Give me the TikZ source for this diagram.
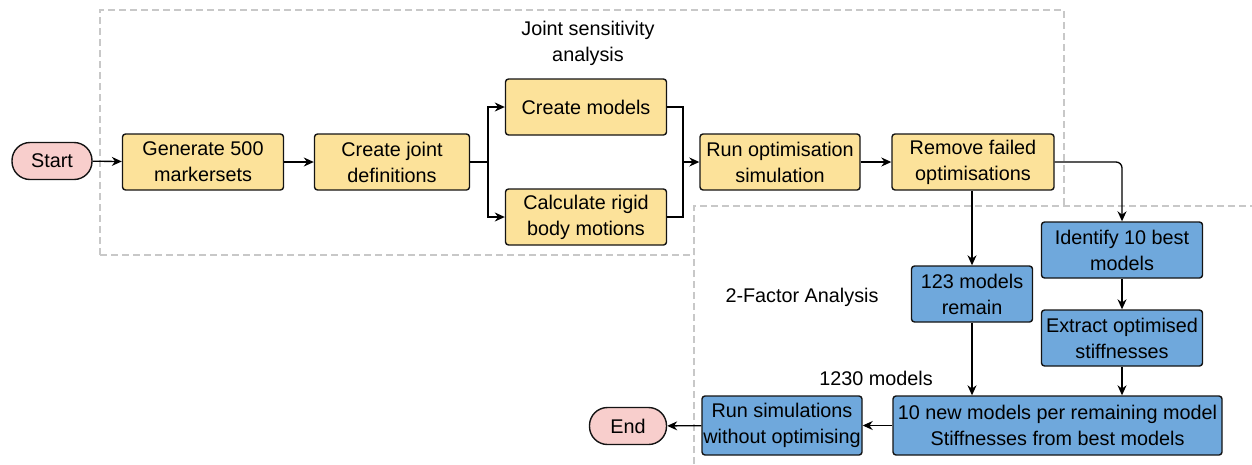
\documentclass[tikz,border=0pt]{standalone}
\usepackage{fontspec}
\setmainfont{Liberation Sans}
\usetikzlibrary{arrows.meta}
\definecolor{yfill}{RGB}{252,226,154}
\definecolor{bfill}{RGB}{111,168,220}
\definecolor{pfill}{RGB}{248,206,204}
\definecolor{dgray}{RGB}{200,200,200}
\definecolor{edge}{RGB}{20,20,20}
\tikzset{
  txt/.style={font=\fontsize{19.8}{26}\selectfont, align=center, text=black},
  ybox/.style={txt, draw=edge, line width=1.4pt, fill=yfill, rounded corners=3pt, minimum width=161pt, minimum height=56pt, inner sep=0pt},
  bbox/.style={txt, draw=edge, line width=1.4pt, fill=bfill, rounded corners=3pt, minimum width=161pt, minimum height=56pt, inner sep=0pt},
  term/.style={txt, draw=edge, line width=1.4pt, fill=pfill, rounded corners=18pt, minimum height=37pt, inner sep=0pt},
  arr/.style={draw=black, line width=1.3pt, -{Stealth[length=10pt,width=9pt]}},
  ln/.style={draw=black, line width=1.3pt},
  grp/.style={draw=dgray, line width=1.6pt, dash pattern=on 7pt off 4pt},
}
\begin{document}
\begin{tikzpicture}[x=1pt,y=-1pt]
\useasboundingbox (0,0) rectangle (1252,464);
% group outlines
\draw[grp] (100,255) -- (100,10) -- (1064,10) -- (1064,206);
\draw[grp] (100,255) -- (694,255);
\draw[grp] (694,464) -- (694,206) -- (1252,206);
% labels
\node[txt] (jsa) at (588,43) {Joint sensitivity\\analysis};
\node[txt] (tfa) at (802,297) {2-Factor Analysis};
\node[txt] (n1230) at (876,378) {1230 models};
% nodes
\node[term, minimum width=80pt] (start) at (52,161) {Start};
\node[ybox] (gen) at (203,162) {Generate 500\\markersets};
\node[ybox, minimum width=155pt] (cj) at (392,162) {Create joint\\definitions};
\node[ybox] (cm) at (586,107) {Create models};
\node[ybox] (cr) at (586,217) {Calculate rigid\\body motions};
\node[ybox, minimum width=160pt] (ro) at (780,162) {Run optimisation\\simulation};
\node[ybox, minimum width=162pt] (rf) at (973,162) {Remove failed\\optimisations};
\node[bbox] (ib) at (1122,250) {Identify 10 best\\models};
\node[bbox, minimum width=121pt] (r123) at (972,294) {123 models\\remain};
\node[bbox] (ex) at (1122,338) {Extract optimised\\stiffnesses};
\node[bbox, minimum width=329pt, minimum height=59pt] (nm) at (1057.5,425.5) {10 new models per remaining model\\Stiffnesses from best models};
\node[bbox, minimum width=160pt, minimum height=59pt] (rs) at (782,425.5) {Run simulations\\without optimising};
\node[term, minimum width=77pt] (end) at (628,426) {End};
% connectors
\draw[arr] (start) -- (gen);
\draw[arr] (gen) -- (cj);
\coordinate (fork) at (488,162);
\draw[ln] (cj.east) -- (fork);
\draw[arr] (fork) |- (cm.west);
\draw[arr] (fork) |- (cr.west);
\coordinate (merge) at (683,162);
\draw[ln] (cm.east) -| (merge);
\draw[ln] (cr.east) -| (merge);
\draw[arr] (merge) -- (ro.west);
\draw[arr] (ro) -- (rf);
\draw[arr, rounded corners=6pt] (rf.east) -| (ib.north);
\draw[arr] (r123.north |- rf.south) -- (r123.north);
\draw[arr] (ib) -- (ex);
\draw[arr] (r123.south) -- (r123.south |- nm.north);
\draw[arr] (ex.south) -- (ex.south |- nm.north);
\draw[arr] (nm) -- (rs);
\draw[arr] (rs) -- (end);
\end{tikzpicture}
\end{document}
